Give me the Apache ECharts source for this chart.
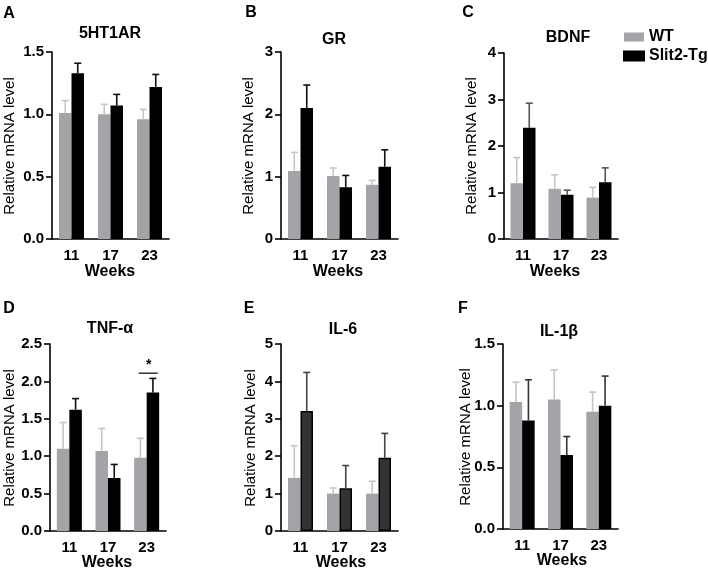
<!DOCTYPE html>
<html>
<head>
<meta charset="utf-8">
<script src="https://cdn.jsdelivr.net/npm/echarts@6/dist/echarts.min.js"></script>
<style>
html,body{margin:0;padding:0;background:#fff;}
#chart{width:708px;height:571px;}
</style>
</head>
<body>
<div id="chart"></div>
<script>
// ---------- data ----------
const weeks = ['11', '17', '23'];
const genes = ['5HT1AR', 'GR', 'BDNF', 'TNF-α', 'IL-6', 'IL-1β'];
const panelLetters = ['A', 'B', 'C', 'D', 'E', 'F'];
const yMax = [1.5, 3, 4, 2.5, 5, 1.5];
const yStep = [0.5, 1, 1, 0.5, 1, 0.5];
const yDecimals = [1, 0, 0, 1, 0, 1];

const ht1ar_WT = [1.01, 1.00, 0.96];
const ht1ar_WT_err = [0.10, 0.08, 0.08];
const ht1ar_Tg = [1.33, 1.07, 1.22];
const ht1ar_Tg_err = [0.08, 0.09, 0.10];

const gr_WT = [1.09, 1.01, 0.87];
const gr_WT_err = [0.30, 0.13, 0.07];
const gr_Tg = [2.10, 0.83, 1.16];
const gr_Tg_err = [0.37, 0.19, 0.27];

const bdnf_WT = [1.20, 1.08, 0.89];
const bdnf_WT_err = [0.55, 0.30, 0.22];
const bdnf_Tg = [2.39, 0.95, 1.22];
const bdnf_Tg_err = [0.53, 0.10, 0.31];

const tnf_WT = [1.10, 1.07, 0.98];
const tnf_WT_err = [0.35, 0.30, 0.26];
const tnf_Tg = [1.62, 0.71, 1.85];
const tnf_Tg_err = [0.15, 0.18, 0.19];

const il6_WT = [1.42, 1.00, 1.00];
const il6_WT_err = [0.86, 0.15, 0.33];
const il6_Tg = [3.21, 1.14, 1.96];
const il6_Tg_err = [1.03, 0.61, 0.65];

const il1b_WT = [1.03, 1.05, 0.95];
const il1b_WT_err = [0.16, 0.24, 0.16];
const il1b_Tg = [0.88, 0.60, 1.00];
const il1b_Tg_err = [0.33, 0.15, 0.24];

// significance marker (TNF-α, week 23)
const sigIndex = 2;
const sigLevel = 2.11;
const sigLabel = '*';

// ---------- layout / style ----------
const WTs = [ht1ar_WT, gr_WT, bdnf_WT, tnf_WT, il6_WT, il1b_WT];
const WTe = [ht1ar_WT_err, gr_WT_err, bdnf_WT_err, tnf_WT_err, il6_WT_err, il1b_WT_err];
const TGs = [ht1ar_Tg, gr_Tg, bdnf_Tg, tnf_Tg, il6_Tg, il1b_Tg];
const TGe = [ht1ar_Tg_err, gr_Tg_err, bdnf_Tg_err, tnf_Tg_err, il6_Tg_err, il1b_Tg_err];

const grids = [
  {left: 52, top: 52, width: 117, height: 187},
  {left: 281, top: 52, width: 117, height: 187},
  {left: 504, top: 53, width: 114, height: 186},
  {left: 50, top: 344, width: 116, height: 187},
  {left: 281, top: 344, width: 117, height: 187},
  {left: 503, top: 344, width: 115, height: 185}
];
const tgFill = ['#000', '#000', '#000', '#000', '#333', '#000'];
const tgErrColor = ['#111', '#111', '#555', '#111', '#444', '#333'];
const wtColor = '#a3a3a8';
const wtErrColor = '#c6c6c8';
const BW = 12.5;
const FONT = '"Liberation Sans", Arial, sans-serif';

const letterPos = [[9, 14], [251, 13], [468, 13], [9, 309], [249, 309], [463, 309]];
const titlePos = [[110, 34], [334, 40], [568, 38], [110, 329], [343, 330], [559, 332]];
const weeksPos = [[110, 272], [338, 272], [555, 272], [107, 563], [341, 563], [562, 561]];
const ynamePos = [[10, 146], [249, 146], [472, 146], [10, 438], [251, 438], [466, 437]];

function errRender(offset, color) {
  return function (params, api) {
    const i = api.value(0), m = api.value(1), e = api.value(2);
    const p0 = api.coord([i, m]);
    const p1 = api.coord([i, m + e]);
    const x = p0[0] + offset;
    return {
      type: 'group',
      children: [
        {type: 'line', shape: {x1: x, y1: p0[1], x2: x, y2: p1[1]}, style: {stroke: color, lineWidth: 1.6}},
        {type: 'line', shape: {x1: x - 3.5, y1: p1[1], x2: x + 3.5, y2: p1[1]}, style: {stroke: color, lineWidth: 1.6}}
      ]
    };
  };
}

function sigRender(params, api) {
  const i = api.value(0), v = api.value(1);
  const p = api.coord([i, v]);
  return {
    type: 'group',
    children: [
      {type: 'line', shape: {x1: p[0] - 8, y1: p[1], x2: p[0] + 11, y2: p[1]}, style: {stroke: '#000', lineWidth: 1.2}},
      {type: 'text', x: p[0] + 2, y: p[1] - 1, style: {text: sigLabel, fill: '#000', font: 'bold 14px ' + FONT, textAlign: 'center', textVerticalAlign: 'bottom'}}
    ]
  };
}

const xAxes = [], yAxes = [], series = [], graphics = [];
for (let k = 0; k < 6; k++) {
  xAxes.push({
    gridIndex: k, type: 'category', data: weeks,
    axisLine: {lineStyle: {color: '#000', width: 1.6}},
    axisTick: {alignWithLabel: true, length: 6, lineStyle: {color: '#000', width: 1.6}},
    axisLabel: {color: '#000', fontWeight: 'bold', fontSize: 15, fontFamily: FONT, margin: 9}
  });
  const dec = yDecimals[k];
  yAxes.push({
    gridIndex: k, type: 'value', min: 0, max: yMax[k], interval: yStep[k],
    axisLine: {show: true, lineStyle: {color: '#000', width: 1.6}},
    axisTick: {show: true, length: 6, lineStyle: {color: '#000', width: 1.6}},
    splitLine: {show: false},
    axisLabel: {color: '#000', fontWeight: 'bold', fontSize: 15, fontFamily: FONT, margin: 8,
      formatter: function (v) { return v.toFixed(dec); }}
  });
  series.push({
    name: 'WT', type: 'bar', xAxisIndex: k, yAxisIndex: k, data: WTs[k],
    barWidth: BW, barGap: '0%', itemStyle: {color: wtColor}, silent: true, z: 2
  });
  series.push({
    name: 'Slit2-Tg', type: 'bar', xAxisIndex: k, yAxisIndex: k, data: TGs[k],
    barWidth: BW, barGap: '0%', itemStyle: {color: tgFill[k], borderColor: '#000', borderWidth: 1.5}, silent: true, z: 2
  });
  series.push({
    type: 'custom', xAxisIndex: k, yAxisIndex: k, silent: true, z: 3,
    renderItem: errRender(-BW / 2, wtErrColor),
    encode: {x: 0, y: 1},
    data: weeks.map((w, i) => [i, WTs[k][i], WTe[k][i]])
  });
  series.push({
    type: 'custom', xAxisIndex: k, yAxisIndex: k, silent: true, z: 3,
    renderItem: errRender(BW / 2, tgErrColor[k]),
    encode: {x: 0, y: 1},
    data: weeks.map((w, i) => [i, TGs[k][i], TGe[k][i]])
  });
  graphics.push({type: 'text', x: letterPos[k][0], y: letterPos[k][1],
    style: {text: panelLetters[k], font: 'bold 16px ' + FONT, fill: '#000', textAlign: 'center', textVerticalAlign: 'middle'}});
  graphics.push({type: 'text', x: titlePos[k][0], y: titlePos[k][1],
    style: {text: genes[k], font: 'bold 16px ' + FONT, fill: '#000', textAlign: 'center', textVerticalAlign: 'middle'}});
  graphics.push({type: 'text', x: weeksPos[k][0], y: weeksPos[k][1],
    style: {text: 'Weeks', font: 'bold 16px ' + FONT, fill: '#000', textAlign: 'center', textVerticalAlign: 'middle'}});
  graphics.push({type: 'text', x: ynamePos[k][0], y: ynamePos[k][1], rotation: Math.PI / 2,
    style: {text: 'Relative mRNA level', font: '15px ' + FONT, fill: '#000', textAlign: 'center', textVerticalAlign: 'middle'}});
}
series.push({
  type: 'custom', xAxisIndex: 3, yAxisIndex: 3, silent: true, z: 4,
  renderItem: sigRender, encode: {x: 0, y: 1},
  data: [[sigIndex, sigLevel]]
});

const chart = echarts.init(document.getElementById('chart'), null, {renderer: 'canvas'});
chart.setOption({
  animation: false,
  backgroundColor: '#fff',
  grid: grids,
  xAxis: xAxes,
  yAxis: yAxes,
  series: series,
  legend: {
    data: ['WT', 'Slit2-Tg'], orient: 'vertical', left: 618, top: 24,
    icon: 'rect', itemWidth: 20, itemHeight: 9, itemGap: 3, selectedMode: false,
    textStyle: {color: '#000', fontWeight: 'bold', fontSize: 16, fontFamily: FONT}
  },
  graphic: graphics
});
</script>
</body>
</html>
